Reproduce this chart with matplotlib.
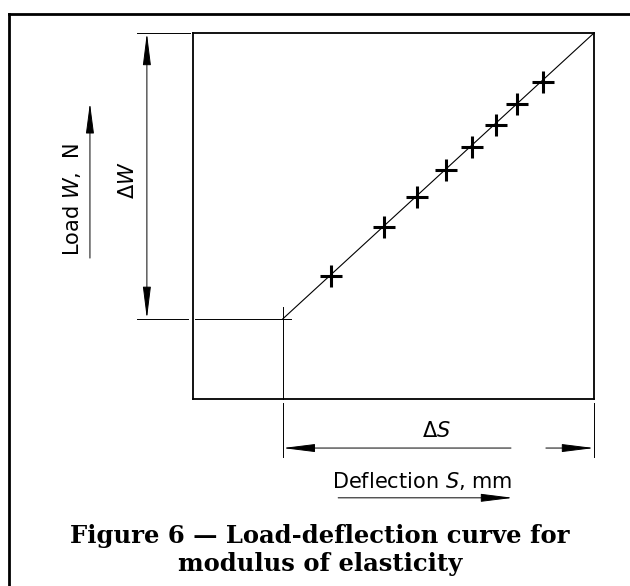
import matplotlib
matplotlib.use('Agg')
import matplotlib.pyplot as plt
from matplotlib.lines import Line2D

# Lecturas de la curva carga-deflexion (unidades arbitrarias del dibujo)
deflection = [3.44, 4.76, 5.59, 6.31, 6.96, 7.56, 8.08, 8.73]
load = [3.36, 4.70, 5.52, 6.26, 6.89, 7.49, 8.06, 8.66]

# Inicio y fin de la recta de ajuste
s_start, w_start = 2.24, 2.19
s_end, w_end = 10.0, 10.0

title_lines = ['Figure 6 \u2014 Load-deflection curve for', 'modulus of elasticity']

plt.rcParams['mathtext.fontset'] = 'dejavusans'

fig = plt.figure(figsize=(6.3, 5.86), dpi=100)
ax = fig.add_axes([193 / 630, (586 - 399) / 586, 401 / 630, 366 / 586])
ax.set_xlim(0, s_end)
ax.set_ylim(0, w_end)
ax.set_xticks([])
ax.set_yticks([])
for sp in ax.spines.values():
    sp.set_linewidth(1.3)

# Recta y puntos medidos
ax.plot([s_start, s_end], [w_start, w_end], color='black', lw=0.8, clip_on=False)
ax.plot(deflection, load, linestyle='none', marker='+', markersize=16,
        markeredgewidth=2.2, color='black', clip_on=False)

thin = dict(color='black', lw=0.7, clip_on=False)

# Lineas de referencia en el origen de la medicion
ax.plot([-1.40, -0.12], [w_start, w_start], **thin)
ax.plot([0.05, s_start + 0.2], [w_start, w_start], **thin)
ax.plot([-1.40, -0.07], [w_end, w_end], **thin)
ax.plot([s_start, s_start], [w_start + 0.33, 0], **thin)
ax.plot([s_start, s_start], [-0.11, -1.58], **thin)
ax.plot([s_end, s_end], [-0.11, -1.58], **thin)


def arrow(x0, y0, x1, y1, style):
    ax.annotate('', xy=(x1, y1), xytext=(x0, y0), annotation_clip=False,
                arrowprops=dict(arrowstyle=style, color='black', lw=0.7,
                                shrinkA=0, shrinkB=0))


# Cota Delta W
arrow(-1.15, w_start, -1.15, w_end, '<|-|>,head_length=2.0,head_width=0.25')
ax.text(-1.62, 5.98, r'$\Delta W$', rotation=90, ha='center', va='center', fontsize=15)

# Cota Delta S (con el corte de la linea)
arrow(7.93, -1.34, s_start, -1.34, '-|>,head_length=2.0,head_width=0.25')
arrow(8.80, -1.34, s_end, -1.34, '-|>,head_length=2.0,head_width=0.25')
ax.text(6.08, -0.87, r'$\Delta S$', ha='center', va='center', fontsize=15)

# Etiquetas de ejes con flecha
ax.text(-3.02, 5.44, r'Load $W$,  N', rotation=90, ha='center', va='center', fontsize=15)
arrow(-2.57, 3.85, -2.57, 8.09, '-|>,head_length=1.9,head_width=0.25')
ax.text(5.71, -2.24, r'Deflection $S$, mm', ha='center', va='center', fontsize=15)
arrow(3.62, -2.70, 7.98, -2.70, '-|>,head_length=2.0,head_width=0.25')

# Marco exterior
fig.add_artist(Line2D([9 / 630, 9 / 630], [0, (586 - 14) / 586], color='black', lw=2.0))
fig.add_artist(Line2D([9 / 630, 1], [(586 - 14) / 586, (586 - 14) / 586], color='black', lw=2.0))

# Titulo
fig.text(320 / 630, (586 - 543) / 586, title_lines[0], ha='center', va='baseline',
         fontsize=17.5, fontweight='bold', family='DejaVu Serif')
fig.text(320 / 630, (586 - 571) / 586, title_lines[1], ha='center', va='baseline',
         fontsize=17.5, fontweight='bold', family='DejaVu Serif')

fig.savefig('out.png', dpi=100)
